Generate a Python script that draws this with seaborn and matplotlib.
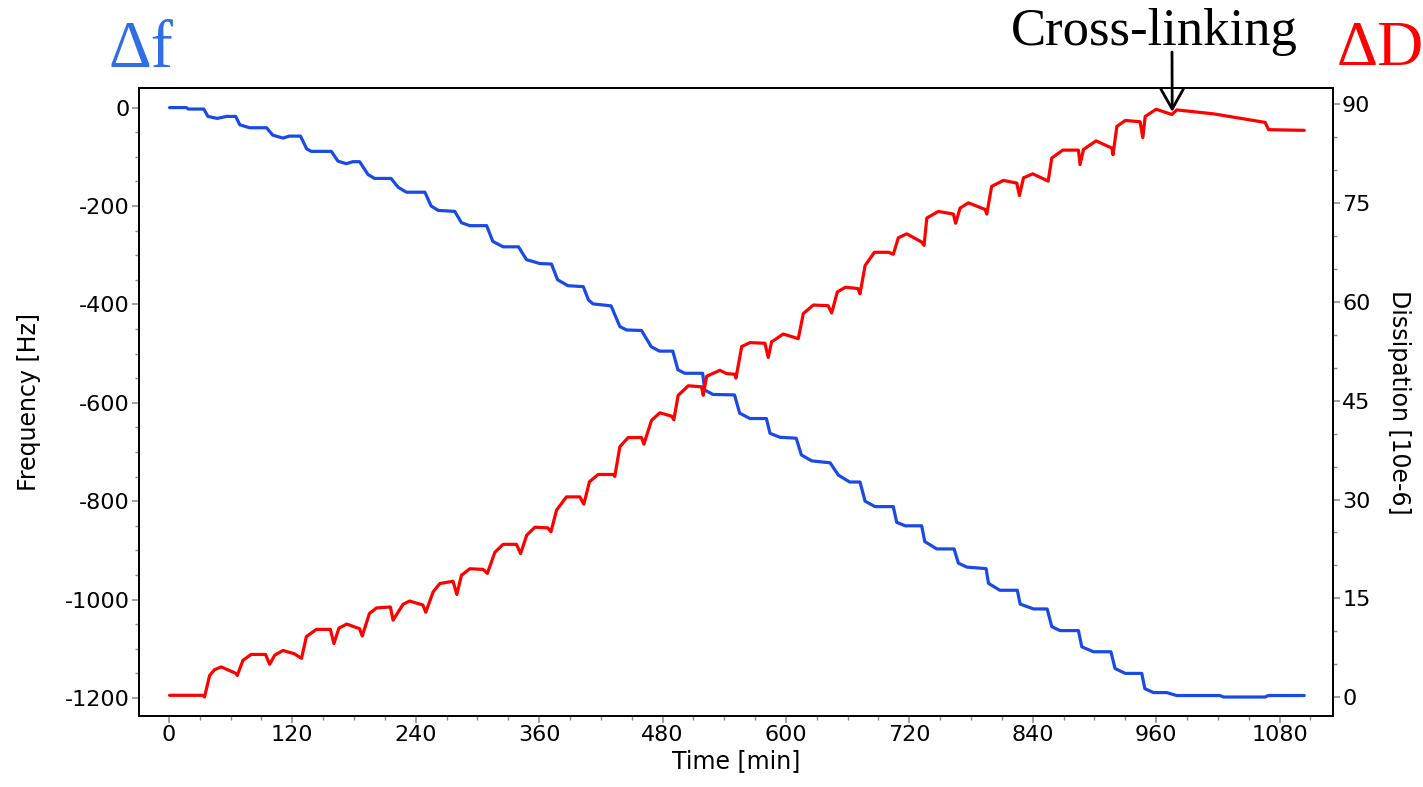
import matplotlib
matplotlib.use("Agg")
import matplotlib.pyplot as plt
import seaborn as sns
from matplotlib.ticker import MultipleLocator

# frequency shift (blue), time in min / Hz
time_f = [0.7, 17, 19, 34, 38, 47, 56, 65, 69, 78.5, 95, 101, 111, 117, 128,
          134, 138.5, 158, 164.5, 172.5, 179, 185.5, 193.6, 200, 216, 223, 231,
          249, 255, 262, 278, 284.5, 292.6, 309, 315, 325, 340, 347.7, 360.7,
          372, 378, 388, 403, 408, 412.5, 430, 438.5, 445, 459.6, 469, 477,
          490, 495, 501.7, 519, 521, 529, 550, 555, 565, 581, 584.5, 594, 610,
          615, 625, 643, 651, 662, 672, 677, 686.6, 704.4, 707.7, 716, 732,
          735, 746.6, 763.5, 767.7, 776, 794.6, 797, 808, 825, 827.7, 840.7,
          854, 858.5, 866.6, 884.4, 887.7, 899, 916, 920, 930, 946, 949, 957.4,
          970.4, 980, 1022, 1025.5, 1066, 1069, 1104]
freq = [0, 0, -3, -3, -18, -22, -18, -18, -35, -41, -41, -56, -62, -58, -58,
        -84, -89, -89, -109, -114, -110, -110, -136, -144, -144, -162, -172,
        -172, -200, -209, -211, -234, -240, -240, -272, -283, -283, -309, -317,
        -318, -350, -362, -364, -391, -399, -403, -445, -452, -453, -486, -495,
        -495, -533, -540, -540, -574, -583, -584, -621, -632, -632, -662, -670,
        -672, -706, -718, -722, -747, -761, -761, -800, -811, -811, -843, -850,
        -850, -882, -897, -897, -926, -934, -937, -967, -981, -981, -1009,
        -1019, -1019, -1055, -1063, -1063, -1096, -1106, -1106, -1140, -1150,
        -1150, -1181, -1189, -1189, -1195, -1195, -1198, -1198, -1195, -1195]

# dissipation shift (red), time in min / 1e-6
time_d = [0.7, 33, 34.7, 39.6, 44.5, 51, 65.6, 66.5, 72, 80, 94, 98, 103, 111,
          122, 129, 133.7, 143.4, 157, 160.5, 165.4, 173, 185.5, 188, 195,
          201.8, 215.4, 218, 227.7, 234, 247, 249.8, 257, 263.4, 276.3, 280,
          284.5, 292.6, 305.5, 309.7, 317, 325, 338, 342, 348, 356, 368.5,
          371.5, 377, 386.6, 399.6, 403.5, 409, 417.4, 432, 433.6, 438.5, 446.6,
          459.6, 461.9, 469.3, 477.4, 488.8, 491, 495.2, 505, 518, 519.6, 522.9,
          535.8, 542.3, 550.4, 551.4, 557, 565, 579.6, 582.8, 586, 597.4, 612,
          616.9, 626.6, 641, 644.5, 650, 658, 670, 672, 677, 686, 700, 704.4,
          709.3, 717.4, 732, 734.3, 737, 748.2, 762.8, 765, 769.3, 777.4, 793.7,
          795.3, 800, 811.5, 824.5, 827, 831, 840, 855, 858.5, 869.2, 884.4,
          886, 889.3, 901.6, 917, 918, 921.8, 930, 944.4, 947, 949.3, 960,
          975.3, 980, 1015.8, 1066, 1069.3, 1104]
diss = [0.3, 0.3, 0.05, 3.3, 4.2, 4.6, 3.6, 3.3, 5.6, 6.5, 6.5, 5.0, 6.4, 7.1,
        6.6, 5.9, 9.2, 10.3, 10.3, 8.15, 10.5, 11.1, 10.4, 9.3, 12.7, 13.55,
        13.7, 11.7, 14.1, 14.6, 14.0, 12.9, 16, 17.25, 17.6, 15.6, 18.5, 19.5,
        19.4, 18.8, 22.0, 23.2, 23.2, 21.8, 24.6, 25.8, 25.7, 25.1, 28.4, 30.4,
        30.4, 29.3, 32.7, 33.8, 33.8, 33.5, 38, 39.4, 39.4, 38.4, 42, 43.15,
        42.65, 42.1, 45.8, 47.25, 47.1, 45.8, 48.7, 49.6, 49.1, 49.0, 48.4,
        53.2, 53.8, 53.7, 51.55, 53.9, 55.1, 54.4, 58.2, 59.5, 59.4, 58.3,
        61.5, 62.2, 62.0, 61.2, 65.5, 67.5, 67.5, 67.2, 69.7, 70.3, 69.05,
        68.55, 72.7, 73.7, 73.3, 71.9, 74.2, 75.0, 74.0, 73.3, 77.5, 78.4,
        78.0, 76.1, 78.8, 79.4, 78.3, 81.8, 83.0, 83.0, 80.8, 83.1, 84.4, 83.3,
        82.3, 86.6, 87.5, 87.3, 84.9, 88.1, 89.2, 88.4, 89.1, 88.5, 87.2, 86.1,
        86.0]

x_ticks = [0, 120, 240, 360, 480, 600, 720, 840, 960, 1080]
crosslink_time = 975.6
crosslink_diss = 88.8

sns.set_style("ticks")
plt.rcParams['font.family'] = ['DejaVu Sans']
plt.rcParams['axes.unicode_minus'] = False
plt.rcParams['text.color'] = 'black'
plt.rcParams['axes.labelcolor'] = 'black'

fig = plt.figure(figsize=(14.23, 7.87), dpi=100)
ax = fig.add_axes([0.0977, 0.0902, 0.8391, 0.7978])
ax2 = ax.twinx()

blue = "#1a4ae6"
red = "#ff0000"
sns.lineplot(x=time_f, y=freq, ax=ax, color=blue, lw=2.3, estimator=None)
sns.lineplot(x=time_d, y=diss, ax=ax2, color=red, lw=2.3, estimator=None)

ax.set_xlim(-29, 1132)
ax.set_ylim(-1236.6, 39.5)
ax2.set_ylim(-2.84, 92.4)

ax.set_xticks(x_ticks)
ax.xaxis.set_minor_locator(MultipleLocator(30))
ax.set_yticks(range(-1200, 1, 200))
ax.yaxis.set_minor_locator(MultipleLocator(50))
ax2.set_yticks(range(0, 91, 15))
ax2.yaxis.set_minor_locator(MultipleLocator(5))

for a in (ax, ax2):
    a.tick_params(which='major', length=5, width=1.1, color='#888888',
                  labelsize=16, labelcolor='black', pad=1.5)
    a.tick_params(which='minor', length=3, width=1.0, color='#888888')
    for s in a.spines.values():
        s.set_visible(True)
        s.set_linewidth(1.3)
        s.set_color('black')

ax.set_xlabel("Time [min]", fontsize=17, labelpad=3, color='black')
ax.set_ylabel("Frequency [Hz]", fontsize=17, labelpad=17, color='black')
ax2.set_ylabel("Dissipation [10e-6]", fontsize=17, rotation=270,
               va='bottom', labelpad=12, color='black')

serif = ['Liberation Serif', 'DejaVu Serif']
fig.text(141 / 1423, 1 - 67 / 787, "\u0394f", color="#2f6ee6", fontsize=48,
         family=serif, ha='center', va='baseline')
fig.text(1380 / 1423, 1 - 65 / 787, "\u0394D", color=red, fontsize=46,
         family=serif, ha='center', va='baseline')
fig.text(1154 / 1423, 1 - 45 / 787, "Cross-linking", color='black',
         fontsize=38, family=serif, ha='center', va='baseline')
ax2.annotate("", xy=(crosslink_time, crosslink_diss),
             xytext=(1172 / 1423, 1 - 52 / 787), textcoords='figure fraction',
             arrowprops=dict(arrowstyle='->,head_length=0.8,head_width=0.45',
                             lw=2, color='black', mutation_scale=18,
                             shrinkA=0, shrinkB=0))

fig.savefig("out.png", dpi=100)
